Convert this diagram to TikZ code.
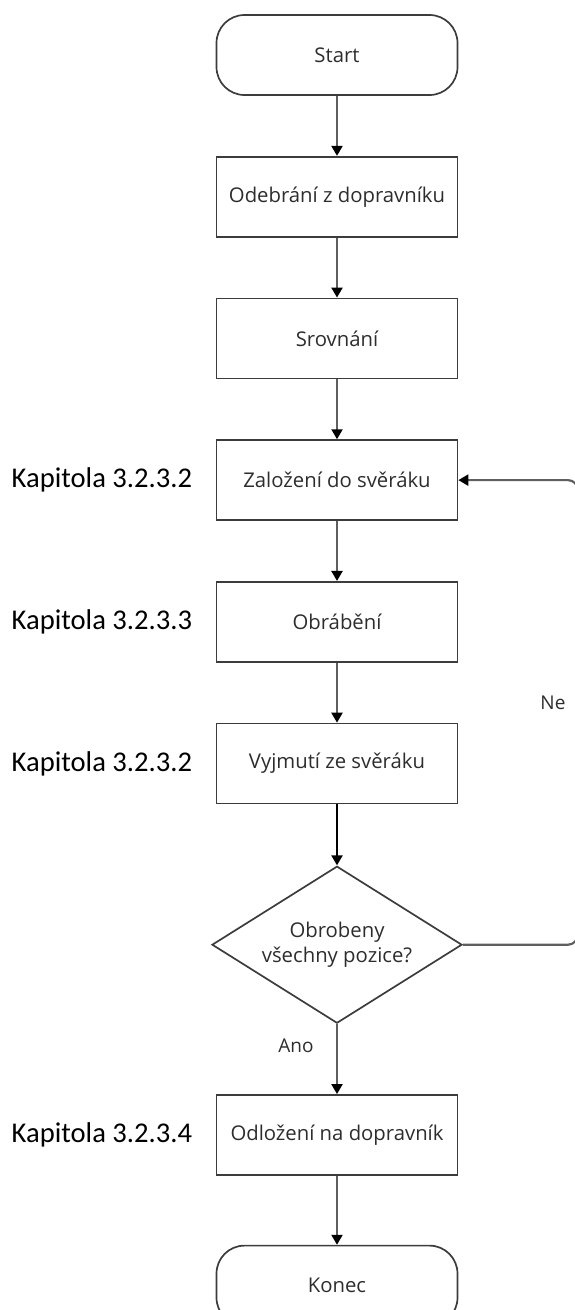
\documentclass[tikz,border=0pt]{standalone}
\usepackage{fontspec}
\setmainfont{Open Sans}
\newfontfamily\kapfont{Carlito}
\usetikzlibrary{arrows.meta,positioning,shapes.geometric}
\definecolor{LineGray}{RGB}{95,95,95}
\definecolor{BoxGray}{RGB}{60,60,60}
\definecolor{TextGray}{RGB}{45,45,45}

\begin{document}
\begin{tikzpicture}[x=1pt,y=-1pt,>={Triangle[width=11pt,length=10pt,color=black]},
    node distance=60pt,
    every node/.style={font=\fontsize{20.3}{25}\selectfont,text=TextGray},
    procbox/.style={draw=BoxGray,line width=1.7pt,minimum width=241pt,minimum height=80pt,inner sep=0pt},
    termbox/.style={procbox,rounded corners=28pt},
    decbox/.style={draw=BoxGray,line width=1.7pt,diamond,aspect=1.6,minimum width=250pt,minimum height=157pt,inner sep=0pt,align=center},
    kaplabel/.style={font=\kapfont\fontsize{28.6}{30}\selectfont,text=black},
    flow/.style={->,LineGray,line width=2.2pt}]
  \useasboundingbox (0,0) rectangle (575,1310);
  \node[termbox] (start) at (337,55) {Start};
  \node[procbox,below=of start] (pickup) {Odebrání z dopravníku};
  \node[procbox,below=of pickup] (level) {Srovnání};
  \node[procbox,below=of level] (clamp) {Založení do svěráku};
  \node[procbox,below=of clamp] (machine) {Obrábění};
  \node[procbox,below=of machine] (release) {Vyjmutí ze svěráku};
  \node[decbox,below=61pt of release] (check) {Obrobeny\\všechny pozice?};
  \node[procbox,below=70pt of check] (drop) {Odložení na dopravník};
  \node[termbox,below=69pt of drop] (finish) {Konec};
  % chapter references
  \foreach \n/\k in {clamp/2,machine/3,release/2,drop/4}
    \node[kaplabel,left=20pt of \n] {Kapitola 3.2.3.\k};
  \foreach \a/\b in {start/pickup,pickup/level,level/clamp,clamp/machine,machine/release,drop/finish}
    \draw[flow] (\a)--(\b);
  \draw[flow,black] (release)--(check);
  \draw[flow] (check)--node[pos=0.31,left=19pt,font=\fontsize{19}{22}\selectfont]{Ano} (drop);
  \draw[flow,rounded corners=10pt] (check.east)--++(115,0) |- node[pos=0.26,left=8pt,font=\fontsize{19}{22}\selectfont]{Ne} (clamp.east);
\end{tikzpicture}
\end{document}
